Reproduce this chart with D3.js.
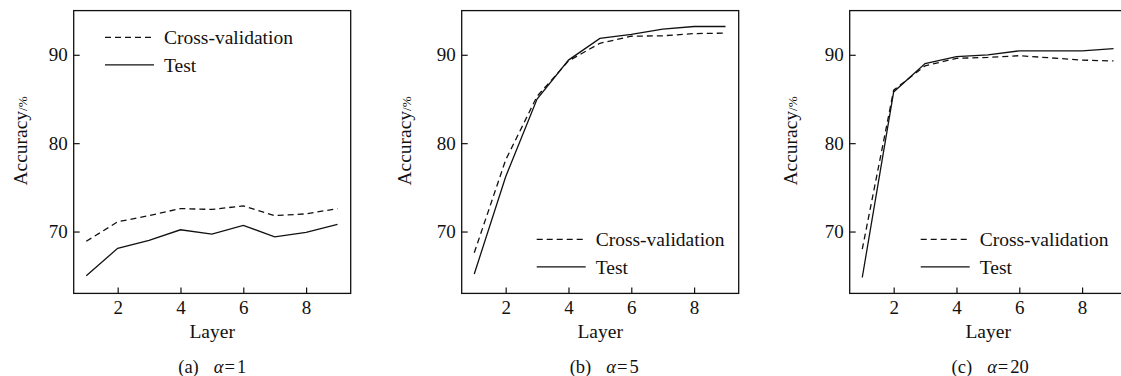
<!DOCTYPE html>
<html>
<head>
<meta charset="utf-8">
<script src="https://cdn.jsdelivr.net/npm/d3@7"></script>
<style>
  html, body { margin: 0; padding: 0; background: #fff; }
  svg { display: block; }
  text { font-family: "Liberation Serif", "Times New Roman", serif; fill: #111; }
</style>
</head>
<body>
<div id="chart"></div>
<script>
// Accuracy per number of layers, three regularisation strengths
const layers = [1, 2, 3, 4, 5, 6, 7, 8, 9];

const cvA   = [68.9, 71.1, 71.8, 72.6, 72.5, 72.9, 71.8, 72.0, 72.6];
const testA = [65.0, 68.1, 69.0, 70.2, 69.7, 70.7, 69.4, 69.9, 70.8];

const cvB   = [67.6, 78.1, 85.3, 89.3, 91.3, 92.1, 92.15, 92.4, 92.45];
const testB = [65.2, 76.2, 85.0, 89.4, 91.85, 92.3, 92.9, 93.2, 93.2];

const cvC   = [68.0, 86.0, 88.75, 89.6, 89.7, 89.9, 89.65, 89.4, 89.3];
const testC = [64.8, 85.8, 89.0, 89.8, 90.0, 90.45, 90.45, 90.45, 90.7];

const xTicks = [2, 4, 6, 8];
const yTicks = [70, 80, 90];
const seriesNames = ["Cross-validation", "Test"];
const panelTags = ["(a)", "(b)", "(c)"];
const alphaValues = ["1", "5", "20"];

const W = 1121, H = 376;
const svg = d3.select("#chart").append("svg")
  .attr("width", W).attr("height", H);
svg.append("rect").attr("width", W).attr("height", H).attr("fill", "#fff");

const plotW = 277, plotTop = 10.6, plotBottom = 293.4;
const y = d3.scaleLinear().domain([63, 95]).range([plotBottom, plotTop]);

const panels = [
  { left: 73.7,  cv: cvA, test: testA, legend: { x1: 31.3, y: 37.3 }, ylabX: 46.5, capShift: 0 },
  { left: 461.7, cv: cvB, test: testB, legend: { x1: 75,   y: 239.3 }, ylabX: 51, capShift: 4 },
  { left: 849.7, cv: cvC, test: testC, legend: { x1: 71,   y: 239.3 }, ylabX: 52.5, capShift: 2 }
];

const lineStroke = 1.3;

panels.forEach((p, i) => {
  const x = d3.scaleLinear().domain([0.6, 9.42]).range([p.left, p.left + plotW]);
  const g = svg.append("g");

  // x axis (ticks inward)
  const xa = g.append("g")
    .attr("transform", `translate(0,${plotBottom})`)
    .call(d3.axisBottom(x).tickValues(xTicks).tickSizeInner(-6).tickSizeOuter(0).tickPadding(7));
  xa.select(".domain").remove();
  xa.selectAll("line").attr("stroke", "#111").attr("stroke-width", 1.2);
  xa.selectAll("text").attr("font-size", 19).attr("font-family", "Liberation Serif").attr("fill", "#111");

  // y axis (ticks inward)
  const ya = g.append("g")
    .attr("transform", `translate(${p.left},0)`)
    .call(d3.axisLeft(y).tickValues(yTicks).tickSizeInner(-6).tickSizeOuter(0).tickPadding(6));
  ya.select(".domain").remove();
  ya.selectAll("line").attr("stroke", "#111").attr("stroke-width", 1.2);
  ya.selectAll("text").attr("font-size", 19).attr("font-family", "Liberation Serif").attr("fill", "#111");

  // frame
  g.append("rect")
    .attr("x", p.left).attr("y", plotTop)
    .attr("width", plotW).attr("height", plotBottom - plotTop)
    .attr("fill", "none").attr("stroke", "#111").attr("stroke-width", 1.3);

  const line = d3.line().x((d, k) => x(layers[k])).y(d => y(d));

  g.append("path").datum(p.cv)
    .attr("d", line).attr("fill", "none")
    .attr("stroke", "#111").attr("stroke-width", lineStroke)
    .attr("stroke-dasharray", "6,4");
  g.append("path").datum(p.test)
    .attr("d", line).attr("fill", "none")
    .attr("stroke", "#111").attr("stroke-width", lineStroke);

  // legend
  const lx1 = p.left + p.legend.x1, lx2 = lx1 + 49, ly = p.legend.y;
  [0, 1].forEach(k => {
    const yy = ly + k * 27.5;
    g.append("line")
      .attr("x1", lx1).attr("x2", lx2).attr("y1", yy).attr("y2", yy)
      .attr("stroke", "#111").attr("stroke-width", lineStroke)
      .attr("stroke-dasharray", k === 0 ? "6,4" : null);
    g.append("text")
      .attr("x", lx2 + 10).attr("y", yy + 6.8)
      .attr("font-size", 19.5)
      .text(seriesNames[k]);
  });

  // axis titles
  const cx = p.left + plotW / 2;
  g.append("text")
    .attr("x", cx).attr("y", 338.3)
    .attr("text-anchor", "middle").attr("font-size", 19.5)
    .text("Layer");

  const yl = g.append("text")
    .attr("transform", `translate(${p.left - p.ylabX},141) rotate(-90)`)
    .attr("text-anchor", "middle").attr("font-size", 19.5);
  yl.append("tspan").text("Accuracy");
  yl.append("tspan").attr("font-size", 13).text("/%");

  // caption
  const cap = g.append("text")
    .attr("x", cx + p.capShift).attr("y", 373)
    .attr("text-anchor", "middle").attr("font-size", 18.5);
  cap.append("tspan").text(panelTags[i]);
  cap.append("tspan").attr("dx", 15).attr("font-style", "italic").text("\u03b1");
  cap.append("tspan").attr("dx", 1).text("=");
  cap.append("tspan").attr("dx", 2).text(alphaValues[i]);
});
</script>
</body>
</html>
